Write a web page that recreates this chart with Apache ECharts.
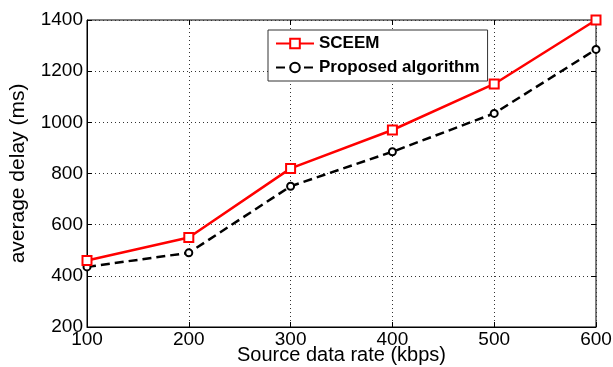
<!DOCTYPE html>
<html>
<head>
<meta charset="utf-8">
<script src="https://cdn.jsdelivr.net/npm/echarts@6/dist/echarts.min.js"></script>
<style>
  html, body { margin: 0; padding: 0; background: #fff; }
  #main { width: 613px; height: 367px; }
</style>
</head>
<body>
<div id="main"></div>
<script>
// source data rate (kbps)
var rates = [100, 200, 300, 400, 500, 600];
// average delay (ms)
var sceem = [460, 550, 820, 970, 1150, 1400];
var proposed = [435, 490, 750, 885, 1035, 1285];

var chart = echarts.init(document.getElementById('main'));

function pairs(ys) {
  return rates.map(function (x, i) { return [x, ys[i]]; });
}

var font = 'Arial, "Liberation Sans", sans-serif';
var plain = function (v) { return String(v); };

var option = {
  animation: false,
  backgroundColor: '#fff',
  grid: {
    left: 87, top: 20, right: 17, bottom: 40,
    containLabel: false, outerBoundsMode: 'none',
    show: true, borderColor: '#000', borderWidth: 1
  },
  legend: {
    left: 268, top: 30,
    orient: 'vertical',
    itemGap: 7,
    itemWidth: 38, itemHeight: 12,
    padding: [5, 8, 5, 7],
    backgroundColor: '#fff',
    borderColor: '#333', borderWidth: 1,
    textStyle: { fontFamily: font, fontWeight: 'bold', fontSize: 17, color: '#000' },
    data: ['SCEEM', 'Proposed algorithm']
  },
  xAxis: [{
    type: 'value', min: 100, max: 600, interval: 100,
    name: 'Source data rate (kbps)', nameLocation: 'middle', nameGap: 18,
    nameMoveOverlap: false,
    nameTextStyle: { fontFamily: font, fontSize: 20, color: '#000', verticalAlign: 'top' },
    axisLine: { lineStyle: { color: '#000' } },
    axisTick: { inside: true, length: 5, lineStyle: { color: '#000' } },
    axisLabel: { fontFamily: font, fontSize: 19, color: '#000', margin: 3, formatter: plain },
    splitLine: { show: true, lineStyle: { color: '#333', type: [1, 3], width: 1 } }
  }, {
    type: 'value', position: 'top', min: 100, max: 600, interval: 100,
    axisLine: { show: false },
    axisTick: { inside: true, length: 5, lineStyle: { color: '#000' } },
    axisLabel: { show: false }, splitLine: { show: false }
  }],
  yAxis: [{
    type: 'value', min: 200, max: 1400, interval: 200,
    name: 'average delay (ms)', nameLocation: 'middle', nameGap: 58,
    nameMoveOverlap: false,
    nameTextStyle: { fontFamily: font, fontSize: 21, color: '#000' },
    axisLine: { show: true, lineStyle: { color: '#000' } },
    axisTick: { show: true, inside: true, length: 5, lineStyle: { color: '#000' } },
    axisLabel: { fontFamily: font, fontSize: 19, color: '#000', margin: 4, formatter: plain },
    splitLine: { show: true, lineStyle: { color: '#333', type: [1, 3], width: 1 } }
  }, {
    type: 'value', position: 'right', min: 200, max: 1400, interval: 200,
    axisLine: { show: false },
    axisTick: { show: true, inside: true, length: 5, lineStyle: { color: '#000' } },
    axisLabel: { show: false }, splitLine: { show: false }
  }],
  series: [{
    name: 'SCEEM',
    type: 'line',
    data: pairs(sceem),
    symbol: 'rect', symbolSize: 9,
    itemStyle: { color: '#fff', borderColor: '#ff0000', borderWidth: 2 },
    lineStyle: { color: '#ff0000', width: 2.5 },
    z: 3
  }, {
    name: 'Proposed algorithm',
    type: 'line',
    data: pairs(proposed),
    symbol: 'circle', symbolSize: 7,
    itemStyle: { color: '#fff', borderColor: '#000', borderWidth: 2 },
    lineStyle: { color: '#000', width: 2.5, type: [9, 5] },
    z: 2
  }]
};

chart.setOption(option);
</script>
</body>
</html>
